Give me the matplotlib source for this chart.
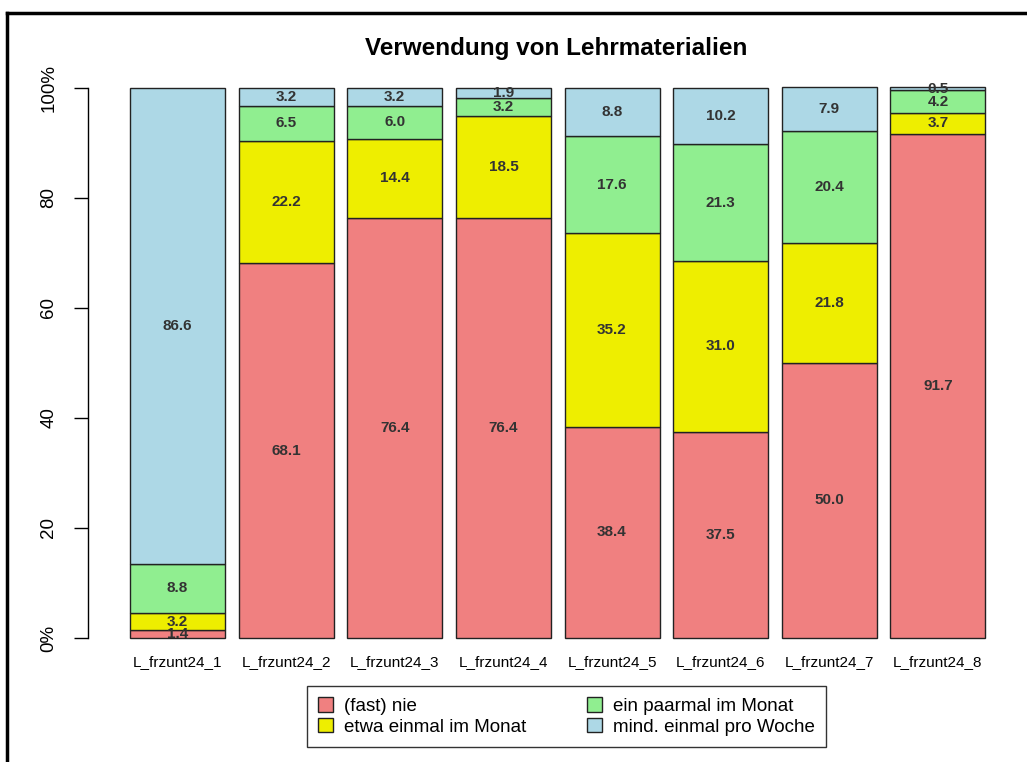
import numpy as np
import matplotlib
matplotlib.use("Agg")
import matplotlib.pyplot as plt
from matplotlib.lines import Line2D
from matplotlib.patches import Patch

plt.rcParams['font.family'] = ['Liberation Sans', 'DejaVu Sans']

# ---------------------------- data ----------------------------
items = ["L_frzunt24_1", "L_frzunt24_2", "L_frzunt24_3", "L_frzunt24_4",
         "L_frzunt24_5", "L_frzunt24_6", "L_frzunt24_7", "L_frzunt24_8"]
categories = ["(fast) nie", "etwa einmal im Monat",
              "ein paarmal im Monat", "mind. einmal pro Woche"]
nie = [1.4, 68.1, 76.4, 76.4, 38.4, 37.5, 50.0, 91.7]
einmal = [3.2, 22.2, 14.4, 18.5, 35.2, 31.0, 21.8, 3.7]
paarmal = [8.8, 6.5, 6.0, 3.2, 17.6, 21.3, 20.4, 4.2]
woche = [86.6, 3.2, 3.2, 1.9, 8.8, 10.2, 7.9, 0.5]
colors = ["#F08080", "#EEEE00", "#90EE90", "#ADD8E6"]

series = [nie, einmal, paarmal, woche]

# --------------------------- figure ---------------------------
fig = plt.figure(figsize=(10.27, 7.62), dpi=100)
ax = fig.add_axes([88 / 1027, 1 - 660 / 762, 1 - 88 / 1027, (660 - 66) / 762])

x = np.arange(len(items))
width = 0.875
bottom = np.zeros(len(items))
for vals, col in zip(series, colors):
    vals = np.array(vals)
    ax.bar(x, vals, width, bottom=bottom, color=col, edgecolor="#222222",
           linewidth=1.0)
    for xi, b, v in zip(x, bottom, vals):
        ax.text(xi, b + v / 2, f"{v:.1f}", ha="center", va="center",
                fontsize=11, fontweight="bold", color="#333333")
    bottom += vals

ax.set_xlim(-0.824, 7.82)
ax.set_ylim(-4, 104)

for s in ["top", "right", "bottom"]:
    ax.spines[s].set_visible(False)
ax.spines["left"].set_bounds(0, 100)
ax.spines["left"].set_linewidth(1.0)

ax.set_yticks([0, 20, 40, 60, 80, 100])
ax.set_yticklabels(["0%", "20", "40", "60", "80", "100%"], rotation=90,
                   va="center", fontsize=13.5)
ax.tick_params(axis="y", length=10, width=1.0, pad=12)

ax.set_xticks(x)
ax.set_xticklabels(items, fontsize=11)
ax.tick_params(axis="x", length=0, pad=-3.6)

fig.text(556 / 1027, 1 - 48 / 762, "Verwendung von Lehrmaterialien",
         ha="center", va="center", fontsize=17.5, fontweight="bold")

handles = [Patch(facecolor=c, edgecolor="#222222", linewidth=1.0) for c in colors]
fig.legend(handles, categories, ncol=2, loc="center",
           bbox_to_anchor=(566.5 / 1027, 1 - 716.5 / 762),
           fontsize=13.5, frameon=True, fancybox=False, edgecolor="black",
           handlelength=0.8, handleheight=0.8, handletextpad=0.6,
           columnspacing=3.2, labelspacing=0.15, borderpad=0.6)

# outer frame lines on the left and top edges
fig.add_artist(Line2D([7 / 1027, 7 / 1027], [0, 1 - 13 / 762],
                      transform=fig.transFigure, color="black", linewidth=2.5))
fig.add_artist(Line2D([7 / 1027, 1], [1 - 13 / 762, 1 - 13 / 762],
                      transform=fig.transFigure, color="black", linewidth=2.5))

fig.savefig("out.png", dpi=100)
